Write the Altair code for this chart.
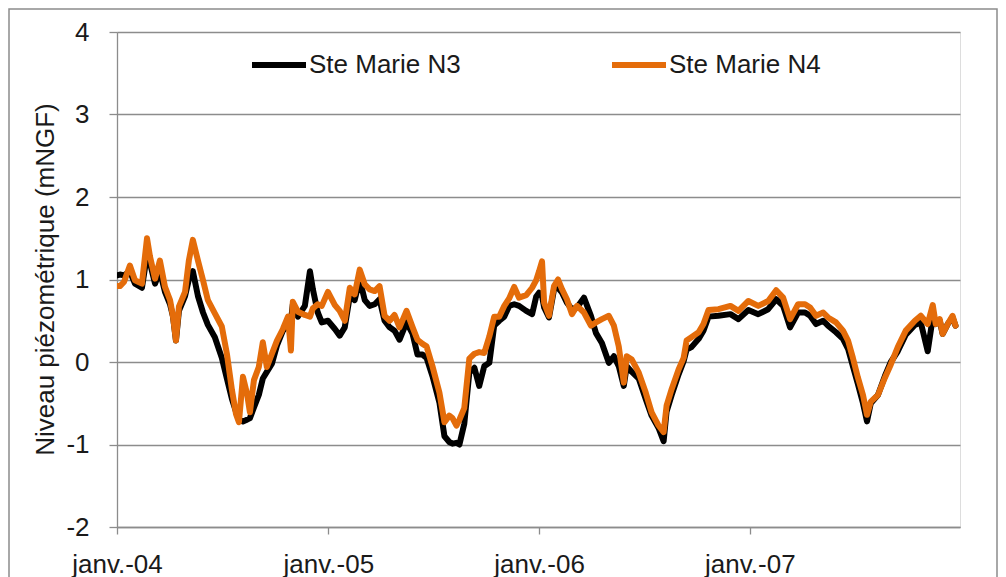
import altair as alt
import pandas as pd
from datetime import datetime, timedelta

# time in years elapsed since 1 Jan 2004
years_since_2004 = [0.000, 0.014, 0.033, 0.061, 0.085, 0.118, 0.142, 0.156, 0.180, 0.203,
                    0.227, 0.251, 0.265, 0.279, 0.293, 0.322, 0.340, 0.359, 0.383, 0.407,
                    0.430, 0.463, 0.496, 0.520, 0.544, 0.563, 0.577, 0.596, 0.615, 0.629,
                    0.648, 0.671, 0.690, 0.709, 0.733, 0.757, 0.785, 0.809, 0.823, 0.832,
                    0.856, 0.889, 0.913, 0.927, 0.950, 0.969, 0.998, 1.031, 1.054, 1.078,
                    1.102, 1.125, 1.149, 1.173, 1.196, 1.220, 1.243, 1.267, 1.291, 1.314,
                    1.338, 1.371, 1.400, 1.423, 1.447, 1.466, 1.494, 1.527, 1.551, 1.574,
                    1.589, 1.608, 1.622, 1.645, 1.669, 1.693, 1.716, 1.740, 1.764, 1.787,
                    1.811, 1.835, 1.858, 1.882, 1.905, 1.939, 1.967, 1.986, 2.000, 2.014,
                    2.024, 2.047, 2.071, 2.090, 2.109, 2.132, 2.156, 2.180, 2.213, 2.246,
                    2.270, 2.298, 2.331, 2.355, 2.378, 2.402, 2.416, 2.440, 2.473, 2.506,
                    2.534, 2.567, 2.591, 2.605, 2.629, 2.662, 2.686, 2.700, 2.723, 2.757,
                    2.780, 2.804, 2.851, 2.908, 2.946, 2.993, 3.040, 3.087, 3.125, 3.158,
                    3.191, 3.229, 3.262, 3.286, 3.314, 3.348, 3.371, 3.409, 3.442, 3.466,
                    3.489, 3.513, 3.537, 3.556, 3.574, 3.608, 3.641, 3.669, 3.702, 3.740,
                    3.783, 3.811, 3.844, 3.868, 3.882, 3.901, 3.915, 3.939, 3.962, 3.976]

ste_marie_n3 = [1.05, 1.06, 1.05, 1.10, 0.95, 0.90, 1.30, 1.20, 0.95, 1.10,
                0.85, 0.70, 0.55, 0.26, 0.62, 0.80, 1.00, 1.10, 0.80, 0.60,
                0.45, 0.30, 0.05, -0.20, -0.45, -0.60, -0.70, -0.72, -0.70, -0.68,
                -0.55, -0.40, -0.20, -0.12, -0.02, 0.20, 0.38, 0.45, 0.50, 0.70,
                0.55, 0.68, 1.10, 0.88, 0.60, 0.48, 0.50, 0.40, 0.32, 0.42,
                0.80, 0.75, 1.00, 0.75, 0.68, 0.70, 0.76, 0.50, 0.42, 0.38,
                0.27, 0.48, 0.34, 0.09, 0.09, 0.05, -0.17, -0.49, -0.90, -0.97,
                -0.99, -0.98, -1.00, -0.75, -0.13, -0.07, -0.29, -0.05, -0.01, 0.44,
                0.50, 0.55, 0.68, 0.70, 0.68, 0.62, 0.58, 0.79, 0.84, 0.80,
                0.66, 0.54, 0.88, 0.90, 0.84, 0.72, 0.64, 0.66, 0.78, 0.56,
                0.35, 0.23, -0.01, 0.07, -0.05, -0.29, -0.05, -0.12, -0.20, -0.45,
                -0.65, -0.80, -0.96, -0.60, -0.40, -0.15, 0.01, 0.15, 0.18, 0.28,
                0.38, 0.55, 0.56, 0.58, 0.52, 0.63, 0.58, 0.64, 0.76, 0.68,
                0.42, 0.60, 0.60, 0.56, 0.46, 0.50, 0.44, 0.36, 0.28, 0.16,
                -0.05, -0.27, -0.50, -0.72, -0.50, -0.40, -0.17, 0.00, 0.13, 0.33,
                0.45, 0.48, 0.13, 0.54, 0.46, 0.50, 0.34, 0.46, 0.54, 0.44]

ste_marie_n4 = [0.92, 0.92, 0.97, 1.17, 0.99, 0.95, 1.50, 1.28, 1.01, 1.23,
                0.91, 0.75, 0.55, 0.26, 0.67, 0.85, 1.23, 1.48, 1.23, 0.99,
                0.75, 0.59, 0.43, 0.10, -0.34, -0.63, -0.73, -0.18, -0.38, -0.61,
                -0.22, -0.06, 0.24, -0.06, 0.10, 0.26, 0.40, 0.55, 0.14, 0.73,
                0.61, 0.57, 0.55, 0.65, 0.70, 0.68, 0.85, 0.69, 0.62, 0.50,
                0.90, 0.82, 1.12, 0.94, 0.88, 0.86, 0.92, 0.56, 0.50, 0.57,
                0.42, 0.62, 0.42, 0.27, 0.22, 0.19, -0.05, -0.37, -0.73, -0.65,
                -0.68, -0.77, -0.70, -0.56, 0.04, 0.10, 0.12, 0.11, 0.31, 0.55,
                0.55, 0.68, 0.77, 0.91, 0.78, 0.81, 0.90, 0.99, 1.10, 1.22,
                0.72, 0.56, 0.92, 1.00, 0.88, 0.76, 0.58, 0.68, 0.60, 0.44,
                0.48, 0.52, 0.56, 0.44, 0.19, -0.25, 0.07, 0.03, -0.13, -0.37,
                -0.61, -0.77, -0.85, -0.53, -0.33, -0.09, 0.05, 0.26, 0.30, 0.36,
                0.46, 0.63, 0.64, 0.68, 0.62, 0.74, 0.68, 0.74, 0.87, 0.78,
                0.52, 0.70, 0.70, 0.66, 0.56, 0.60, 0.54, 0.48, 0.38, 0.26,
                0.05, -0.19, -0.40, -0.64, -0.48, -0.40, -0.19, -0.03, 0.18, 0.38,
                0.50, 0.56, 0.46, 0.69, 0.46, 0.52, 0.34, 0.46, 0.56, 0.44]

series_names = ["Ste Marie N3", "Ste Marie N4"]
series_colors = ["#000000", "#E46C0A"]
tick_years = [2004, 2005, 2006, 2007]
y_ticks = [-2, -1, 0, 1, 2, 3, 4]


def to_date(t):
    y = 2004 + int(t)
    frac = t - int(t)
    start = datetime(y, 1, 1)
    ndays = (datetime(y + 1, 1, 1) - start).days
    return (start + timedelta(days=frac * ndays)).strftime("%Y-%m-%dT%H:%M:%S")


dates = [to_date(t) for t in years_since_2004]
rows = []
for name, vals in zip(series_names, [ste_marie_n3, ste_marie_n4]):
    for d, v in zip(dates, vals):
        rows.append({"date": d, "value": v, "series": name})
df = pd.DataFrame(rows)

FONT = "Liberation Sans"
GRID = "#8c8c8c"
TEXT = "#1a1a1a"

lines = alt.Chart(df).mark_line(strokeWidth=6, strokeJoin="round", strokeCap="round", clip=True).encode(
    x=alt.X("date:T",
            scale=alt.Scale(domain=[alt.DateTime(year=2004, month=1, date=1),
                                    alt.DateTime(year=2007, month=12, date=31)]),
            axis=alt.Axis(values=[alt.DateTime(year=y, month=1, date=1) for y in tick_years],
                          labelExpr="'janv.-' + timeFormat(datum.value, '%y')",
                          grid=False, tickSize=7, tickColor=GRID, tickWidth=1.3,
                          domainColor=GRID, domainWidth=1.3,
                          labelFont=FONT, labelFontSize=26, labelColor=TEXT,
                          labelPadding=17, labelFlush=False, labelOverlap=False),
            title=None),
    y=alt.Y("value:Q",
            scale=alt.Scale(domain=[-2, 4], nice=False, zero=False),
            axis=alt.Axis(values=y_ticks,
                          labelExpr="datum.value < 0 ? '-' + abs(datum.value) : '' + datum.value",
                          grid=True, gridColor=GRID, gridWidth=1.3,
                          tickSize=8, tickColor=GRID, tickWidth=1.3,
                          domainColor=GRID, domainWidth=1.3,
                          labelFont=FONT, labelFontSize=26, labelColor=TEXT, labelPadding=20,
                          titleFont=FONT, titleFontSize=26, titleColor=TEXT, titleFontWeight="normal",
                          titleAngle=-90, titleAlign="center", titleBaseline="middle",
                          titleX=-72, titleY=247),
            title="Niveau piézométrique (mNGF)"),
    color=alt.Color("series:N",
                    scale=alt.Scale(domain=series_names, range=series_colors),
                    legend=alt.Legend(orient="none", legendX=132, legendY=3, direction="horizontal",
                                      title=None, symbolType="stroke", symbolSize=2916,
                                      symbolStrokeWidth=6, labelFont=FONT, labelFontSize=26,
                                      labelColor=TEXT, labelOffset=0, columnPadding=139)),
)

frame = alt.Chart(alt.Data(values=[{"k": 1}])).mark_rect(
    fill="transparent", stroke=GRID, strokeWidth=1.5, clip=False
).encode(x=alt.value(-108), x2=alt.value(880), y=alt.value(-23), y2=alt.value(620))

chart = alt.layer(frame, lines).properties(
    width=843, height=495,
    autosize=alt.AutoSizeParams(type="none"),
    padding={"left": 109, "top": 24, "right": 38, "bottom": 50},
).configure_view(stroke=None).configure(background="white")

chart.save("out.html", embed_options={"renderer": "svg", "actions": False})
